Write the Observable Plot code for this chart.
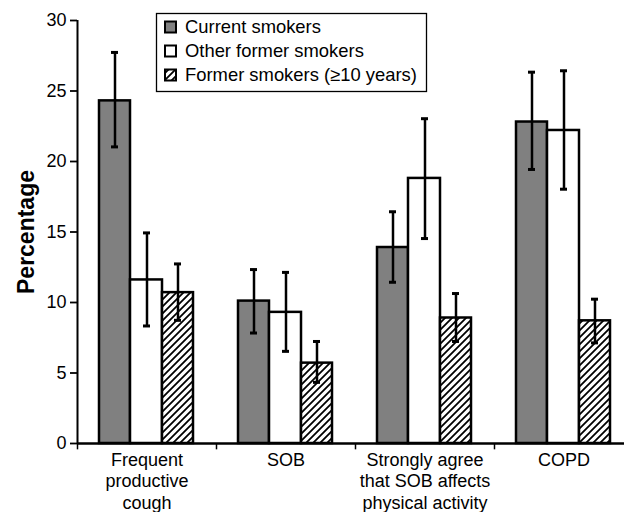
<!DOCTYPE html>
<html>
<head>
<meta charset="utf-8">
<script src="https://cdn.jsdelivr.net/npm/d3@7"></script>
<script src="https://cdn.jsdelivr.net/npm/@observablehq/plot@0.6"></script>
<style>
  html, body { margin: 0; padding: 0; background: #fff; }
  #chart svg { display: block; }
</style>
</head>
<body>
<div id="chart"></div>
<script>
const categories = ["Frequent productive cough", "SOB", "Strongly agree that SOB affects physical activity", "COPD"];
const tickLabels = ["Frequent\nproductive\ncough", "SOB", "Strongly agree\nthat SOB affects\nphysical activity", "COPD"];
const seriesNames = ["Current smokers", "Other former smokers", "Former smokers (\u226510 years)"];

const currentVal = [24.3, 10.1, 13.9, 22.8];
const currentLo  = [21.0, 7.8, 11.4, 19.4];
const currentHi  = [27.7, 12.3, 16.4, 26.3];

const otherVal = [11.6, 9.3, 18.8, 22.2];
const otherLo  = [8.3, 6.5, 14.5, 18.0];
const otherHi  = [14.9, 12.1, 23.0, 26.4];

const formerVal = [10.7, 5.7, 8.9, 8.7];
const formerLo  = [8.7, 4.3, 7.2, 7.1];
const formerHi  = [12.7, 7.2, 10.6, 10.2];

const yTicks = [0, 5, 10, 15, 20, 25, 30];

function rows(vals, lo, hi) {
  return categories.map((c, i) => ({cat: c, value: vals[i], lo: lo[i], hi: hi[i]}));
}
const current = rows(currentVal, currentLo, currentHi);
const other = rows(otherVal, otherLo, otherHi);
const former = rows(formerVal, formerLo, formerHi);

const fills = ["#808080", "#ffffff", "url(#hatch)"];
const groups = [
  {data: current, fill: fills[0], insetLeft: 22, insetRight: 86, dx: -32},
  {data: other,   fill: fills[1], insetLeft: 53, insetRight: 54, dx: 0},
  {data: former,  fill: fills[2], insetLeft: 85, insetRight: 23, dx: 31}
];

const defsMark = () => {
  const g = d3.create("svg:g");
  const p = g.append("defs").append("pattern")
    .attr("id", "hatch").attr("patternUnits", "userSpaceOnUse")
    .attr("width", 7).attr("height", 7);
  p.append("rect").attr("width", 7).attr("height", 7).attr("fill", "#fff");
  p.append("path").attr("d", "M-1,1 l2,-2 M0,7 l7,-7 M6,8 l2,-2")
    .attr("stroke", "#000").attr("stroke-width", 1.8);
  return g.node();
};

const legendMark = () => {
  const g = d3.create("svg:g").attr("text-anchor", "start");
  g.append("rect").attr("x", 156.5).attr("y", 13.5).attr("width", 270).attr("height", 78)
    .attr("fill", "#fff").attr("stroke", "#000").attr("stroke-width", 1.3);
  const ys = [27, 51, 75];
  seriesNames.forEach((name, i) => {
    g.append("rect").attr("x", 165).attr("y", ys[i] - 5.5).attr("width", 11).attr("height", 11)
      .attr("fill", fills[i]).attr("stroke", "#000").attr("stroke-width", 2);
    g.append("text").attr("x", 185).attr("y", ys[i]).attr("dy", "0.35em")
      .attr("text-anchor", "start")
      .attr("font-size", 18.4).attr("fill", "#000").text(name);
  });
  return g.node();
};

const marks = [defsMark];
groups.forEach(gr => {
  marks.push(Plot.barY(gr.data, {x: "cat", y: "value", fill: gr.fill, stroke: "#000", strokeWidth: 2.5,
    insetLeft: gr.insetLeft, insetRight: gr.insetRight}));
});
// axes lines
marks.push(Plot.ruleY([0], {stroke: "#000", strokeWidth: 2.5}));
marks.push(Plot.ruleX([categories[0]], {x: d => d, y1: 0, y2: 30, dx: -69.5, stroke: "#000", strokeWidth: 2}));
// category boundary ticks
marks.push(Plot.ruleX(categories, {x: d => d, y1: 0, y2: -0.45, dx: -69.5, stroke: "#000", strokeWidth: 1.5}));
// error bars: vertical line + caps
groups.forEach(gr => {
  marks.push(Plot.ruleX(gr.data, {x: "cat", y1: "lo", y2: "hi", dx: gr.dx, stroke: "#000", strokeWidth: 2.5}));
  for (const key of ["hi", "lo"]) {
    marks.push(Plot.rectY(gr.data, {x: "cat", y1: key, y2: key, dx: gr.dx,
      insetLeft: 66, insetRight: 66, insetTop: -1.5, insetBottom: -1.5, fill: "#000"}));
  }
});
marks.push(Plot.axisY({ticks: yTicks, tickSize: 7, tickPadding: 4, fontSize: 18, label: null, strokeWidth: 1.8}));
marks.push(Plot.axisX({tickSize: 0, tickPadding: 7, fontSize: 18, lineHeight: 1.2, label: null,
  tickFormat: d => tickLabels[categories.indexOf(d)]}));
marks.push(Plot.text(["Percentage"], {frameAnchor: "left", dx: -44, rotate: -90, text: d => d,
  textAnchor: "middle", fontSize: 23, fontWeight: "bold", fill: "#000", lineAnchor: "bottom"}));
marks.push(legendMark);

const chart = Plot.plot({
  width: 624,
  height: 512,
  marginLeft: 77,
  marginRight: 0,
  marginTop: 20,
  marginBottom: 69,
  style: {fontFamily: "'Liberation Sans', Arial, sans-serif", color: "#000", background: "#fff", overflow: "visible"},
  x: {type: "band", domain: categories, range: [77, 633], padding: 0, axis: null},
  y: {domain: [0, 30], axis: null},
  marks
});
document.getElementById("chart").appendChild(chart);
</script>
</body>
</html>
